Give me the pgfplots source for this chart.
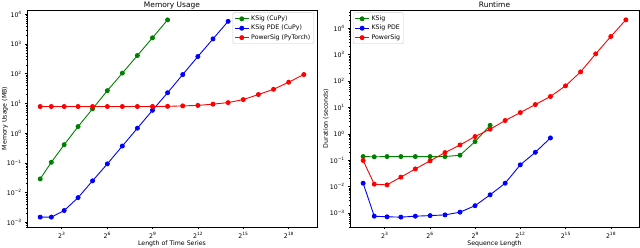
\documentclass[border=0pt]{standalone}
\usepackage{fontspec}
\setmainfont{DejaVu Sans}
\usepackage{pgfplots}
\pgfplotsset{compat=1.18}
\definecolor{mgreen}{RGB}{0,128,0}
\definecolor{mblue}{RGB}{0,0,255}
\definecolor{mred}{RGB}{255,0,0}
\newcommand\sups[1]{\raisebox{0.42em}{\fontsize{4.4}{5}\selectfont #1}}
\newcommand\tkf{\fontsize{6.25}{7.5}\selectfont}
\pgfplotsset{every axis title/.style={font=\fontsize{7.5}{9}\selectfont, inner sep=0pt, at={(axis description cs:0.5,1)}, anchor=base, yshift=2.4bp}}
\begin{document}
\begin{tikzpicture}
\useasboundingbox (0,0) rectangle (640bp,248bp);
\begin{axis}[
  at={(27bp,21bp)}, anchor=south west,
  xmode=log, ymode=log, log basis x=2,
  scale only axis, width=290bp, height=217bp,
  xmin=1.640, xmax=9.59e5,
  ymin=6.98e-4, ymax=1.396e4,
  xtick={8,64,512,4096,32768,262144},
  xticklabels={2\sups{3},2\sups{6},2\sups{9},2\sups{12},2\sups{15},2\sups{18}},
  xminorticks=false,
  ytick={1e-3,1e-2,1e-1,1,10,100,1000,1e4},
  yticklabels={10\sups{−3},10\sups{−2},10\sups{−1},10\sups{0},10\sups{1},10\sups{2},10\sups{3},10\sups{4}},
  minor ytick={2e-4,3e-4,4e-4,5e-4,6e-4,7e-4,8e-4,9e-4,2e-3,3e-3,4e-3,5e-3,6e-3,7e-3,8e-3,9e-3,2e-2,3e-2,4e-2,5e-2,6e-2,7e-2,8e-2,9e-2,0.2,0.3,0.4,0.5,0.6,0.7,0.8,0.9,2,3,4,5,6,7,8,9,20,30,40,50,60,70,80,90,200,300,400,500,600,700,800,900,2000,3000,4000,5000,6000,7000,8000,9000,2e4,3e4,4e4,5e4,6e4,7e4,8e4,9e4},
  tick align=outside, tick pos=left,
  major tick length=2.2bp, minor tick length=1.25bp,
  every tick/.append style={black, line width=0.5bp},
  axis line style={line width=0.5bp},
  tick label style={font=\tkf},
  xlabel style={font=\tkf, at={(axis description cs:0.5,0)}, anchor=base, yshift=-18bp},
  ylabel style={font=\tkf, at={(axis description cs:-0.076,0.5)}, anchor=center},
  legend cell align=left,
  legend image code/.code={\draw[mark repeat=2,mark phase=2,#1] plot coordinates {(0bp,0bp)(7bp,0bp)(14bp,0bp)};},
  legend style={font=\tkf, draw=black!20, rounded corners=1.5bp, inner xsep=1.5bp, inner ysep=1bp, row sep=-0.8bp, at={(axis description cs:1,1)}, anchor=north east, xshift=-3bp, yshift=-2.5bp},
  title={Memory Usage},
  xlabel={Length of Time Series},
  ylabel={Memory Usage (MB)},
]
\addplot[color=mgreen, line width=0.9bp, mark=*, mark size=2bp, mark options={fill=mgreen}] coordinates {
(3,0.029) (5,0.105) (9,0.41) (17,1.67) (33,6.6) (65,27) (129,105) (257,410) (513,1620) (1025,6500)};
\addlegendentry{KSig (CuPy)}
\addplot[color=mblue, line width=0.9bp, mark=*, mark size=2bp, mark options={fill=mblue}] coordinates {
(3,0.0015) (5,0.0015) (9,0.0025) (17,0.0068) (33,0.025) (65,0.093) (129,0.37) (257,1.47) (513,5.9) (1025,23) (2049,94) (4097,380) (8193,1490) (16385,5800)};
\addlegendentry{KSig PDE (CuPy)}
\addplot[color=mred, line width=0.9bp, mark=*, mark size=2bp, mark options={fill=mred}] coordinates {
(3,7.9) (5,7.9) (9,7.9) (17,7.9) (33,7.9) (65,7.9) (129,7.9) (257,7.9) (513,7.95) (1025,8.0) (2049,8.3) (4097,8.6) (8193,9.5) (16385,10.7) (32769,13.5) (65537,20) (131073,30) (262145,52) (524289,94)};
\addlegendentry{PowerSig (PyTorch)}
\end{axis}
\begin{axis}[
  at={(350bp,21bp)}, anchor=south west,
  xmode=log, ymode=log, log basis x=2,
  scale only axis, width=289bp, height=217bp,
  xmin=1.640, xmax=9.59e5,
  ymin=2.96e-4, ymax=4.92e4,
  xtick={8,64,512,4096,32768,262144},
  xticklabels={2\sups{3},2\sups{6},2\sups{9},2\sups{12},2\sups{15},2\sups{18}},
  xminorticks=false,
  ytick={1e-3,1e-2,1e-1,1,10,100,1000,1e4},
  yticklabels={10\sups{−3},10\sups{−2},10\sups{−1},10\sups{0},10\sups{1},10\sups{2},10\sups{3},10\sups{4}},
  minor ytick={2e-4,3e-4,4e-4,5e-4,6e-4,7e-4,8e-4,9e-4,2e-3,3e-3,4e-3,5e-3,6e-3,7e-3,8e-3,9e-3,2e-2,3e-2,4e-2,5e-2,6e-2,7e-2,8e-2,9e-2,0.2,0.3,0.4,0.5,0.6,0.7,0.8,0.9,2,3,4,5,6,7,8,9,20,30,40,50,60,70,80,90,200,300,400,500,600,700,800,900,2000,3000,4000,5000,6000,7000,8000,9000,2e4,3e4,4e4,5e4,6e4,7e4,8e4,9e4},
  tick align=outside, tick pos=left,
  major tick length=2.2bp, minor tick length=1.25bp,
  every tick/.append style={black, line width=0.5bp},
  axis line style={line width=0.5bp},
  tick label style={font=\tkf},
  xlabel style={font=\tkf, at={(axis description cs:0.5,0)}, anchor=base, yshift=-18bp},
  ylabel style={font=\tkf, at={(axis description cs:-0.083,0.5)}, anchor=center},
  legend cell align=left,
  legend image code/.code={\draw[mark repeat=2,mark phase=2,#1] plot coordinates {(0bp,0bp)(7bp,0bp)(14bp,0bp)};},
  legend style={font=\tkf, draw=black!20, rounded corners=1.5bp, inner xsep=1.5bp, inner ysep=1bp, row sep=-0.8bp, at={(axis description cs:0,1)}, anchor=north west, xshift=3bp, yshift=-2.5bp},
  title={Runtime},
  xlabel={Sequence Length},
  ylabel={Duration (seconds)},
]
\addplot[color=mgreen, line width=0.9bp, mark=*, mark size=2bp, mark options={fill=mgreen}] coordinates {
(3,0.138) (5,0.135) (9,0.138) (17,0.138) (33,0.138) (65,0.138) (129,0.138) (257,0.155) (513,0.51) (1025,2.1)};
\addlegendentry{KSig}
\addplot[color=mblue, line width=0.9bp, mark=*, mark size=2bp, mark options={fill=mblue}] coordinates {
(3,0.0135) (5,0.00076) (9,0.00072) (17,0.0007) (33,0.00076) (65,0.0008) (129,0.00085) (257,0.00108) (513,0.0019) (1025,0.0049) (2049,0.0135) (4097,0.067) (8193,0.2) (16385,0.7)};
\addlegendentry{KSig PDE}
\addplot[color=mred, line width=0.9bp, mark=*, mark size=2bp, mark options={fill=mred}] coordinates {
(3,0.098) (5,0.0124) (9,0.0117) (17,0.023) (33,0.047) (65,0.095) (129,0.195) (257,0.38) (513,0.79) (1025,1.5) (2049,3.2) (4097,6.4) (8193,12.9) (16385,26) (32769,66) (65537,223) (131073,1070) (262145,4870) (524289,20800)};
\addlegendentry{PowerSig}
\end{axis}
\end{tikzpicture}
\end{document}
